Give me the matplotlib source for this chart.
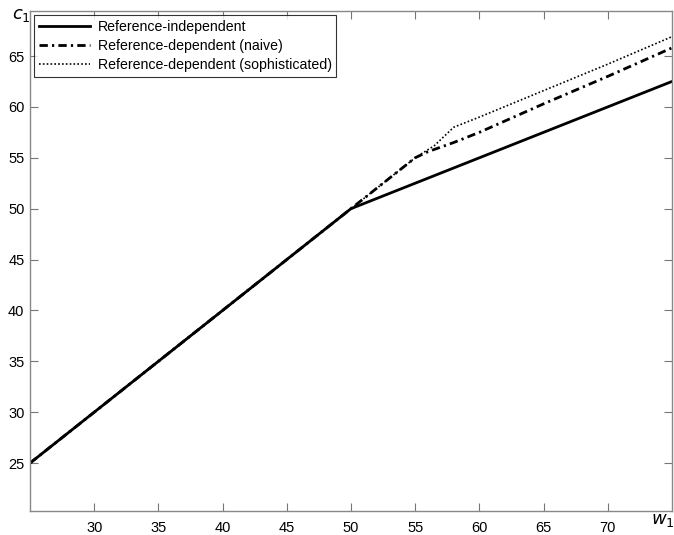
import matplotlib
matplotlib.use("Agg")
import matplotlib.pyplot as plt

# --- Data ---
x_ref = [25, 50, 75]
c_ref = [25, 50, 62.5]

x_naive = [25, 50, 55, 56, 58, 60, 65, 70, 75]
c_naive = [25, 50, 55, 55.6, 56.5, 57.5, 60.3, 63.0, 65.8]

x_soph = [25, 50, 55, 56.5, 58, 60, 65, 70, 75]
c_soph = [25, 50, 55, 56.2, 58.0, 59.0, 61.6, 64.2, 66.9]

xticks = [30, 35, 40, 45, 50, 55, 60, 65, 70]
yticks = [25, 30, 35, 40, 45, 50, 55, 60, 65]

plt.rcParams["font.family"] = ["Liberation Sans", "DejaVu Sans"]

fig = plt.figure(figsize=(6.74, 5.35), dpi=100)
ax = fig.add_axes([0.0445, 0.045, 0.9525, 0.934])

ax.plot(x_ref, c_ref, color="black", linewidth=2.0, label="Reference-independent")
ax.plot(x_naive, c_naive, color="black", linewidth=2.0, linestyle=(0, (3, 1.5, 0.8, 1.5)),
        label="Reference-dependent (naive)")
ax.plot(x_soph, c_soph, color="black", linewidth=1.2, linestyle=(0, (1, 1.3)),
        label="Reference-dependent (sophisticated)")

ax.set_xlim(25, 75)
ax.set_ylim(20.3, 69.4)
ax.set_xticks(xticks)
ax.set_yticks(yticks)
ax.tick_params(direction="in", top=True, right=True, labelsize=10.5, length=6,
               color="#777777")
ax.tick_params(axis="x", pad=7)
ax.tick_params(axis="y", pad=4)
for s in ax.spines.values():
    s.set_color("#888888")
    s.set_linewidth(1.0)

leg = ax.legend(loc="upper left", fontsize=10.2, frameon=True, fancybox=False,
                edgecolor="black", handlelength=3.6, borderpad=0.35,
                labelspacing=0.35, handletextpad=0.5, borderaxespad=0,
                bbox_to_anchor=(0.007, 0.993))
leg.get_frame().set_linewidth(0.8)

fig.text(0.018, 0.972, r"$c_1$", fontsize=13, family="serif", ha="left", va="center")
fig.text(0.966, 0.028, r"$w_1$", fontsize=13, family="serif", ha="left", va="center")

fig.savefig("out.png", dpi=100)
plt.close(fig)
